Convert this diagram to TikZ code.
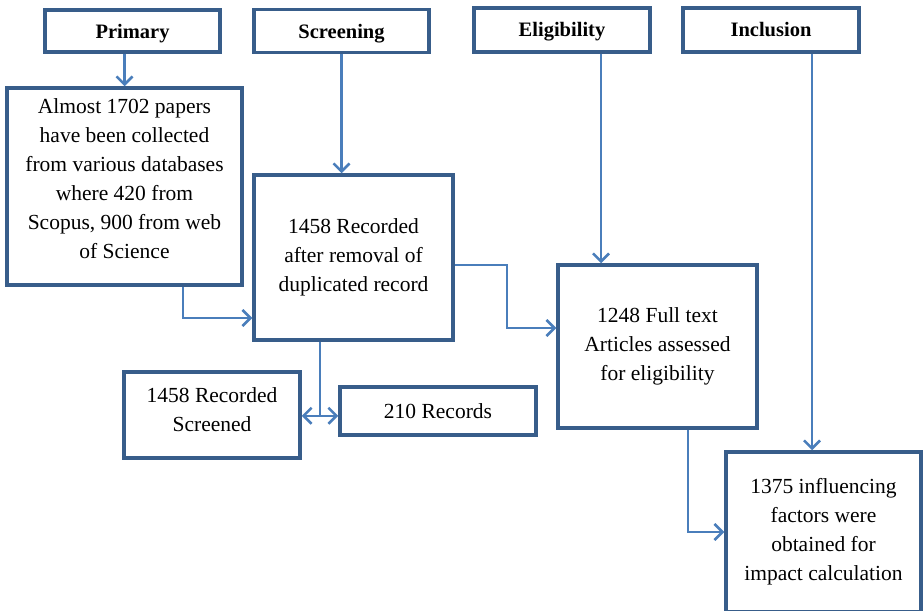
\documentclass[tikz,border=0pt]{standalone}
\usepackage{fontspec}
\setmainfont{Liberation Serif}
\usetikzlibrary{arrows.meta,calc}
\definecolor{boxline}{HTML}{385D8A}
\definecolor{linkline}{HTML}{4A7EBB}
\begin{document}
\begin{tikzpicture}[x=1pt,y=-1pt,
  box/.style={draw=boxline, line width=3.5pt, fill=white, align=center,
    inner sep=0pt, font=\fontsize{21.5}{29}\selectfont},
  headbox/.style={box, font=\fontsize{20.5}{24}\selectfont\bfseries,
    text height=14pt, text depth=0pt},
  tip/.style={Straight Barb[length=8pt,width=16pt,line width=2.5pt]},
  link/.style={draw=linkline, line width=2.5pt, -{Straight Barb[length=8pt,width=16pt,line width=2.5pt]}},
  twolink/.style={draw=linkline, line width=2.5pt,
    {Straight Barb[length=8pt,width=16pt,line width=2.5pt]}-{Straight Barb[length=8pt,width=16pt,line width=2.5pt]}},
  plain/.style={draw=linkline, line width=2.5pt}]
\useasboundingbox (0,0) rectangle (923,610);

% stage headers
\node[headbox, minimum width=175pt, minimum height=42pt] (primary) at (132.5,31) {Primary};
\node[headbox, minimum width=175pt, minimum height=43pt] (screening) at (341.5,31) {Screening};
\node[headbox, minimum width=176pt, minimum height=44pt] (eligibility) at (562,30) {Eligibility};
\node[headbox, minimum width=176pt, minimum height=44pt] (inclusion) at (771,30) {Inclusion};

% process boxes
\node[box, minimum width=235pt, minimum height=197pt, text depth=16pt] (collected) at (124.5,186.5)
  {Almost 1702 papers\\have been collected\\from various databases\\where 420 from\\Scopus, 900 from web\\of Science};
\node[box, minimum width=199pt, minimum height=165pt] (dedup) at (353.5,257.5)
  {1458 Recorded\\after removal of\\duplicated record};
\node[box, minimum width=176pt, minimum height=86pt, text depth=11pt] (screened) at (212,415)
  {1458 Recorded\\Screened};
\node[box, minimum width=196pt, minimum height=48pt] (excluded) at (438,411)
  {210 Records};
\node[box, minimum width=199pt, minimum height=163pt] (fulltext) at (657.5,346.5)
  {1248 Full text\\Articles assessed\\for eligibility};
\node[box, minimum width=195pt, minimum height=160pt] (factors) at (823.5,532)
  {1375 influencing\\factors were\\obtained for\\impact calculation};

% helper points for the bends
\coordinate (eligdrop) at ($(eligibility.south)+(39,0)$);
\coordinate (incldrop) at ($(inclusion.south)+(41,0)$);
\coordinate (collout) at ($(collected.south)+(58.5,0)$);
\coordinate (dedupout) at ($(dedup.south)+(-33.5,0)$);
\coordinate (fullout) at ($(fulltext.south)+(30.5,0)$);
\coordinate (split) at ($(dedupout)+(0,74)$);

% header arrows
\draw[link] (collected.north |- primary.south) -- (collected.north);
\draw[link] (screening.south) -- (screening.south |- dedup.north);
\draw[link] (eligdrop) -- (eligdrop |- fulltext.north);
\draw[link] (incldrop) -- (incldrop |- factors.north);

% flow arrows
\draw[link] (collout) |- ($(dedup.west)+(0,60.5)$);
\draw[link] ($(dedup.east)+(0,7.5)$) -| ($(dedup.east)+(52,7.5)$) |- ($(fulltext.west)+(0,-18.5)$);
\draw[plain] (dedupout) -- (split);
\draw[twolink] (split -| screened.east) -- (split -| excluded.west);
\draw[link] (fullout) |- (factors.west);
\end{tikzpicture}
\end{document}
